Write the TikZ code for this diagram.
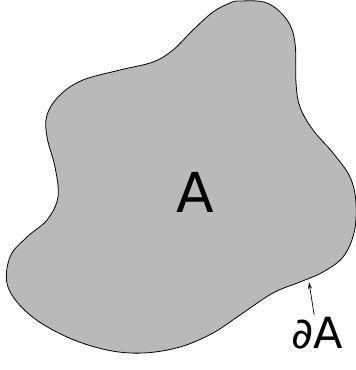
\documentclass[tikz,border=0pt]{standalone}
\usepackage{fontspec}
\setmainfont{DejaVu Sans}
\usetikzlibrary{arrows.meta,positioning}
\definecolor{fg}{RGB}{0,0,0}
\definecolor{area}{RGB}{185,185,185}
\tikzset{
  every picture/.style={fg, line width=0.8pt, line cap=round, line join=round,
    >={Stealth[length=7pt,width=4pt]}},
  % Menge und Rand
  region/.style={fill=area, draw=fg, line width=0.8pt},
  % Beschriftungen
  big/.style={font=\fontsize{55}{55}\selectfont, inner sep=0pt},
  mid/.style={font=\fontsize{43}{43}\selectfont, inner sep=2pt},
  pointer/.style={line width=0.7pt, ->},
}
\begin{document}
\begin{tikzpicture}[x=1pt, y=-1pt]
  \useasboundingbox (0,0) rectangle (356,370);
  % Menge A
  \draw[region] plot[smooth cycle, tension=0.6] coordinates {
    (240,1) (267,3) (287,20) (295,43) (296,83) (300,107) (313,130)
    (333,153) (350,177) (356,203) (354,233) (343,257) (323,272)
    (300,282) (273,293) (240,315) (213,333) (180,347) (143,353)
    (107,350) (67,337) (30,315) (8,287) (10,257) (27,237) (47,220)
    (58,197) (55,167) (47,137) (47,115) (60,95) (83,80) (120,70)
    (153,62) (173,50) (193,30) (213,12) (230,3)};
  \node[big] (set) at (195,192) {A};
  % Rand
  \node[mid] (bd) at (317,333) {∂A};
  \coordinate (bdpt) at (309,282);
  \draw[pointer] (bd) -- (bdpt);
\end{tikzpicture}
\end{document}
